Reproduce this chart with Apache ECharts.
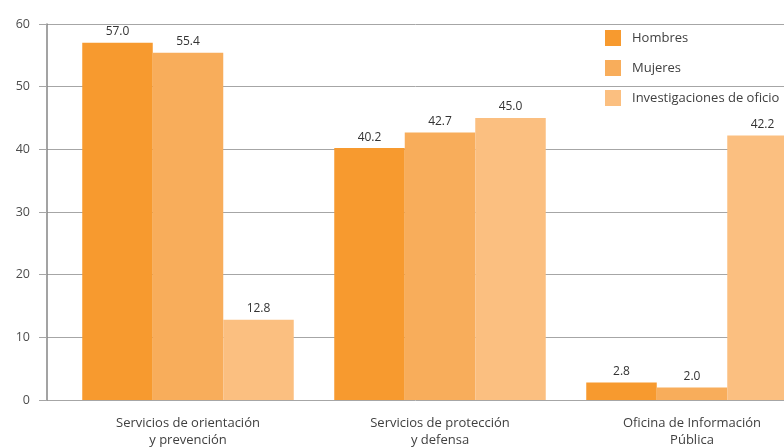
<!DOCTYPE html>
<html>
<head>
<meta charset="utf-8">
<script src="https://cdn.jsdelivr.net/npm/echarts@6/dist/echarts.min.js"></script>
<style>
  html, body { margin: 0; padding: 0; background: #fff; }
  #chart { width: 784px; height: 448px; }
</style>
</head>
<body>
<div id="chart"></div>
<script>
const categories = ['Servicios de orientación\ny prevención', 'Servicios de protección\ny defensa', 'Oficina de Información\nPública']
const seriesNames = ['Hombres', 'Mujeres', 'Investigaciones de oficio']
const hombres = [57.0, 40.2, 2.8]
const mujeres = [55.4, 42.7, 2.0]
const investigaciones = [12.8, 45.0, 42.2]
const colors = ['#F79A2F', '#F8AD5B', '#FBBF80']

const font = 'Open Sans'
const chart = echarts.init(document.getElementById('chart'))

function barSeries (name, data, color) {
  return {
    name: name,
    type: 'bar',
    xAxisIndex: 1,
    yAxisIndex: 1,
    data: data,
    barWidth: 70.5,
    barGap: '0%',
    itemStyle: { color: color },
    label: {
      show: true,
      position: 'top',
      distance: 5,
      color: '#333',
      fontFamily: font,
      fontSize: 12,
      formatter: p => p.value.toFixed(1)
    },
    z: 3
  }
}

chart.setOption({
  animation: false,
  textStyle: { fontFamily: font },
  color: colors,
  legend: {
    orient: 'vertical',
    left: 600,
    top: 25,
    itemWidth: 16,
    itemHeight: 16,
    itemGap: 14,
    icon: 'rect',
    textStyle: { color: '#404040', fontSize: 13, fontFamily: font, padding: [0, 0, 0, 6] },
    data: seriesNames
  },
  grid: [
    // grid lines only
    { left: 47, right: 0, top: 24, bottom: 48, outerBoundsMode: 'none' },
    // bars, band slightly offset from the y axis
    { left: 62, right: -34, top: 24, bottom: 48, outerBoundsMode: 'none' }
  ],
  xAxis: [
    { type: 'category', gridIndex: 0, show: false, data: categories },
    {
      type: 'category',
      gridIndex: 1,
      data: categories,
      axisLine: { show: false },
      axisTick: { show: false },
      axisLabel: { color: '#404040', fontSize: 13, fontFamily: font, margin: 15, lineHeight: 17 }
    }
  ],
  yAxis: [
    {
      type: 'value',
      gridIndex: 0,
      min: 0,
      max: 60,
      interval: 10,
      axisLine: { show: false },
      axisTick: { show: false },
      axisLabel: { show: false },
      splitLine: { show: true, lineStyle: { color: '#a6a6a6', width: 1 } }
    },
    {
      type: 'value',
      gridIndex: 1,
      min: 0,
      max: 60,
      interval: 10,
      offset: 15,
      axisLine: { show: true, lineStyle: { color: '#858585', width: 1.5 } },
      axisTick: { show: true, length: 8, lineStyle: { color: '#a6a6a6' } },
      axisLabel: { color: '#4d4d4d', fontSize: 12.5, fontFamily: font, margin: 17, padding: [0, 0, 9, 0] },
      splitLine: { show: false }
    }
  ],
  series: [
    barSeries(seriesNames[0], hombres, colors[0]),
    barSeries(seriesNames[1], mujeres, colors[1]),
    barSeries(seriesNames[2], investigaciones, colors[2])
  ]
})
</script>
</body>
</html>
